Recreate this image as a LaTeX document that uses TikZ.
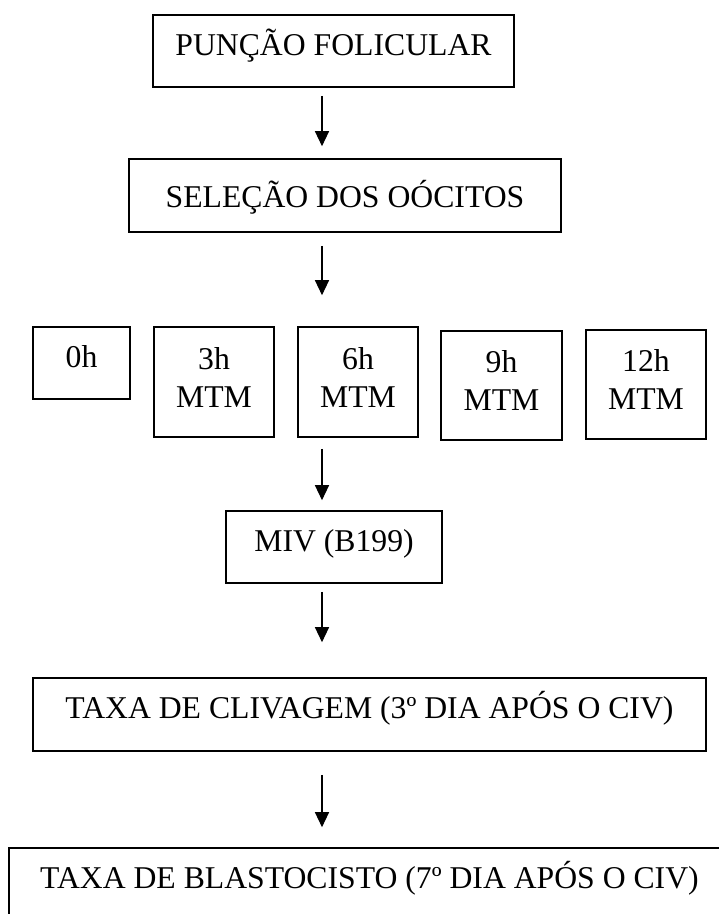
\documentclass[tikz,border=0pt]{standalone}
\usepackage{fontspec}
\setmainfont{Liberation Serif}
\usetikzlibrary{arrows.meta}

\begin{document}
\begin{tikzpicture}[
   x=1pt, y=-1pt,
   stage/.style={rectangle, draw=black, line width=1.6, inner sep=0,
                 font=\fontsize{31.7}{38}\selectfont, align=center},
   stagebox/.style={stage, text height=24pt, text depth=16pt},
   stagetall/.style={stage, execute at end node={\rule[-10pt]{0pt}{10pt}}},
   flow/.style={-{Triangle[width=14, length=15]}, line width=1.3}
  ]

  % Page frame
  \clip (0, 0) rectangle (719, 914);
  \fill[white] (0, 0) rectangle (719, 914);

  % Arrow axis
  \pgfmathsetmacro{\ax}{322}
  \coordinate (AX) at (\ax, 0);

  \node (PF) at (333.5, 51) [stagebox, minimum width=361, minimum height=72] {PUNÇÃO FOLICULAR};
  \node (SO) at (345, 195.5) [stagebox, text depth=1pt, minimum width=432, minimum height=73] {SELEÇÃO DOS OÓCITOS};

  \node (H0) at (81.5, 363) [stagebox, minimum width=97, minimum height=72] {0h};
  \node (H3) at (214, 382) [stagetall, minimum width=120, minimum height=110] {3h\\MTM};
  \node (H6) at (358, 382) [stagetall, minimum width=120, minimum height=110] {6h\\MTM};
  \node (H9) at (501.5, 385.5) [stagetall, minimum width=121, minimum height=109] {9h\\MTM};
  \node (H12) at (646, 384.5) [stagetall, minimum width=120, minimum height=109] {12h\\MTM};

  \node (MIV) at (334, 547) [stagebox, minimum width=216, minimum height=72] {MIV (B199)};

  \node (TC) at (369.5, 714.5) [stagebox, minimum width=673, minimum height=73] {TAXA DE CLIVAGEM (3º DIA APÓS O CIV)};
  \node (TB) at (369.5, 884.5) [stagebox, minimum width=721, minimum height=73] {TAXA DE BLASTOCISTO (7º DIA APÓS O CIV)};

  \foreach \B/\E/\s/\t in {PF/SO/8/12, SO/H6/13/31, H6/MIV/11/10, MIV/TC/8/35, TC/TB/23/20} {
    \draw[flow, shorten <=\s, shorten >=\t] (\B.south -| AX) -- (\E.north -| AX);
  }

\end{tikzpicture}
\end{document}
